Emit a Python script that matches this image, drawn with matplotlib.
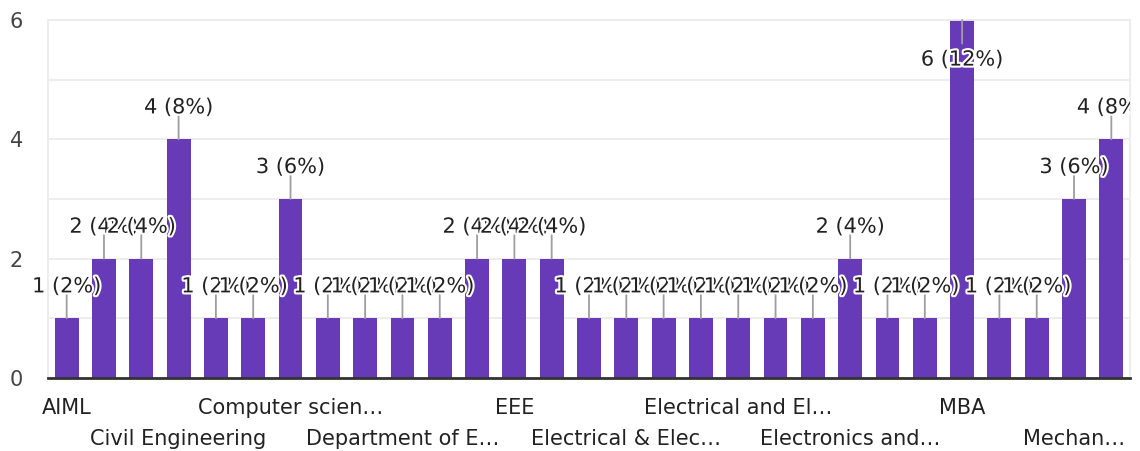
import matplotlib
matplotlib.use("Agg")
import matplotlib.pyplot as plt
import matplotlib.patheffects as pe
from matplotlib.patches import Rectangle

# ---- data ----
categories = [
    "AIML", "Artificial Intelligence", "CSE", "Civil Engineering",
    "Computer Engineering", "Computer Science",
    "Computer science and Engineering", "Computer science & Engineering",
    "Data Science", "Department of ECE", "ECE", "EE", "EEE", "EIE",
    "Electrical", "Electrical & Electronics Engineering",
    "Electrical Engineering", "Electrical and Computer",
    "Electrical and Electronics Engineering", "Electronics",
    "Electronics & Communication", "Electronics and Communication Engineering",
    "IT", "Information Technology", "MBA", "MCA", "ME",
    "Mechanical Engineering", "Mechanical",
]
counts = [1, 2, 2, 4, 1, 1, 3, 1, 1, 1, 1, 2, 2, 2, 1, 1, 1, 1, 1, 1, 1,
          2, 1, 1, 6, 1, 1, 3, 4]
tick_labels = ["AIML", "Civil Engineering", "Computer scien\u2026",
               "Department of E\u2026", "EEE", "Electrical & Elec\u2026",
               "Electrical and El\u2026", "Electronics and\u2026", "MBA",
               "Mechan\u2026"]
y_ticks = [0, 2, 4, 6]

BAR = "#673ab7"
FONT = "DejaVu Sans"
FS = 15
plt.rcParams["font.family"] = [FONT]

W, H, DPI = 1140, 451, 100
fig = plt.figure(figsize=(W / DPI, H / DPI), dpi=DPI)
L, R, T, B = 48, 1130, 20, 378
ax = fig.add_axes([L / W, 1 - B / H, (R - L) / W, (B - T) / H])

x = list(range(len(categories)))
ax.bar(x, counts, width=0.64, color=BAR, zorder=2)

ax.set_xlim(-0.5, len(categories) - 0.5)
ymax = max(y_ticks)
ax.set_ylim(0, ymax)

# grid lines at each integer
ax.set_yticks(y_ticks)
ax.set_yticks(range(0, ymax + 1), minor=True)
ax.grid(axis="y", which="both", color="#ececec", lw=1.3, zorder=0)
ax.tick_params(axis="y", which="both", length=0, pad=18,
               labelsize=FS, labelcolor="#444444")

for s in ["left", "right", "top"]:
    ax.spines[s].set_color("#ececec")
    ax.spines[s].set_linewidth(1.3)
ax.spines["bottom"].set_color("#333333")
ax.spines["bottom"].set_linewidth(2)
ax.spines["bottom"].set_zorder(5)

# x tick labels on two alternating rows
tick_pos = list(range(0, len(categories), 3))
ax.set_xticks(tick_pos[0::2])
ax.set_xticklabels(tick_labels[0::2])
ax.set_xticks(tick_pos[1::2], minor=True)
ax.set_xticklabels(tick_labels[1::2], minor=True)
ax.tick_params(axis="x", which="major", length=0, pad=14.5,
               labelsize=FS, labelcolor="#222222")
ax.tick_params(axis="x", which="minor", length=0, pad=36.5,
               labelsize=FS, labelcolor="#222222")

# value labels
total = sum(counts)
clip = Rectangle((-1, -1), 2.0, 3.0, transform=ax.transAxes)
px_unit = (B - T) / ymax
for i, c in enumerate(counts):
    flip = c + 36 / px_unit > ymax
    sgn = -1 if flip else 1
    ax.annotate("", xy=(i, c), xytext=(0, sgn * 17.0),
                textcoords="offset points",
                arrowprops=dict(arrowstyle="-", color="#9e9e9e", lw=1.3,
                                shrinkA=0, shrinkB=0, patchA=None),
                zorder=3)
    t = ax.annotate(f"{c} ({round(100 * c / total)}%)", xy=(i, c),
                    xytext=(0, sgn * (28.5 if flip else 23.0)),
                    textcoords="offset points", ha="center", va="center",
                    fontsize=FS, color="#222222",
                    zorder=4 + i * 0.01,
                    path_effects=[pe.withStroke(linewidth=3, foreground="white")])
    t.set_clip_path(clip)
    t.set_clip_on(True)

fig.savefig("out.png", dpi=DPI)
